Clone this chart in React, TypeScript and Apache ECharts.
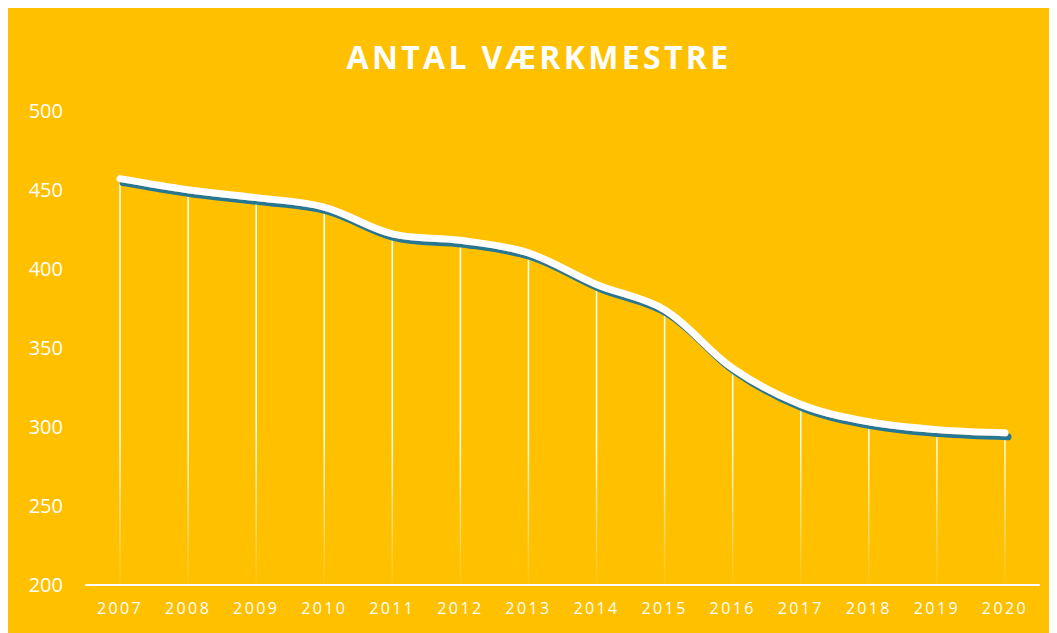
import React, { useEffect, useRef } from "react";
import * as echarts from "echarts";

const title = "ANTAL VÆRKMESTRE";
const years = ["2007", "2008", "2009", "2010", "2011", "2012", "2013", "2014", "2015", "2016", "2017", "2018", "2019", "2020"];
const counts = [457, 450, 445, 439, 422, 418, 410, 390, 374, 337, 314, 303, 298, 296];
const yMin = 200;
const yMax = 500;
const yStep = 50;

export default function App() {
  const ref = useRef<HTMLDivElement>(null);
  useEffect(() => {
    if (!ref.current) return;
    const chart = echarts.init(ref.current, undefined, { renderer: "svg" });
    const font = "'Open Sans', 'Noto Sans', sans-serif";
    chart.setOption({
      animation: false,
      backgroundColor: "#FFC000",
      title: {
        text: title,
        left: 526,
        top: 27,
        textAlign: "center",
        textStyle: { color: "#FFFFFF", fontFamily: font, fontWeight: "bold", fontSize: 32 },
      },
      grid: { left: 78, right: 18, top: 102.8, bottom: 48.7, containLabel: false },
      xAxis: {
        type: "category",
        data: years,
        boundaryGap: true,
        axisLine: { show: true, lineStyle: { color: "#FFFFFF", width: 2 } },
        axisTick: { show: false },
        axisLabel: { color: "#FFFFFF", fontFamily: font, fontSize: 16, margin: 16 },
        splitLine: { show: false },
      },
      yAxis: {
        type: "value",
        min: yMin,
        max: yMax,
        interval: yStep,
        axisLine: { show: false },
        axisTick: { show: false },
        splitLine: { show: false },
        axisLabel: { color: "#FFFFFF", fontFamily: font, fontSize: 20, margin: 23 },
      },
      series: [
        {
          type: "bar",
          data: counts,
          barWidth: 1.5,
          silent: true,
          itemStyle: {
            color: new echarts.graphic.LinearGradient(
              0, 420, 0, 576,
              [
                { offset: 0, color: "rgba(255,255,255,1)" },
                { offset: 1, color: "rgba(255,255,255,0.05)" },
              ],
              true
            ),
          },
        },
        {
          type: "line",
          data: counts,
          smooth: 0.35,
          symbol: "none",
          showSymbol: false,
          lineStyle: {
            color: "#FFFFFF",
            width: 7,
            cap: "round",
            join: "round",
            shadowColor: "#287791",
            shadowBlur: 0,
            shadowOffsetX: 3,
            shadowOffsetY: 4,
          },
        },
      ],
    });
    const svg = ref.current.querySelector("svg");
    if (svg) {
      svg.querySelectorAll("text").forEach((t) => {
        const s = t.textContent || "";
        if (s === title) t.setAttribute("letter-spacing", "3.3");
        else if (years.indexOf(s) >= 0) t.setAttribute("letter-spacing", "2.4");
      });
    }
    return () => chart.dispose();
  }, []);
  return <div ref={ref} style={{ width: 1049, height: 625 }} />;
}
